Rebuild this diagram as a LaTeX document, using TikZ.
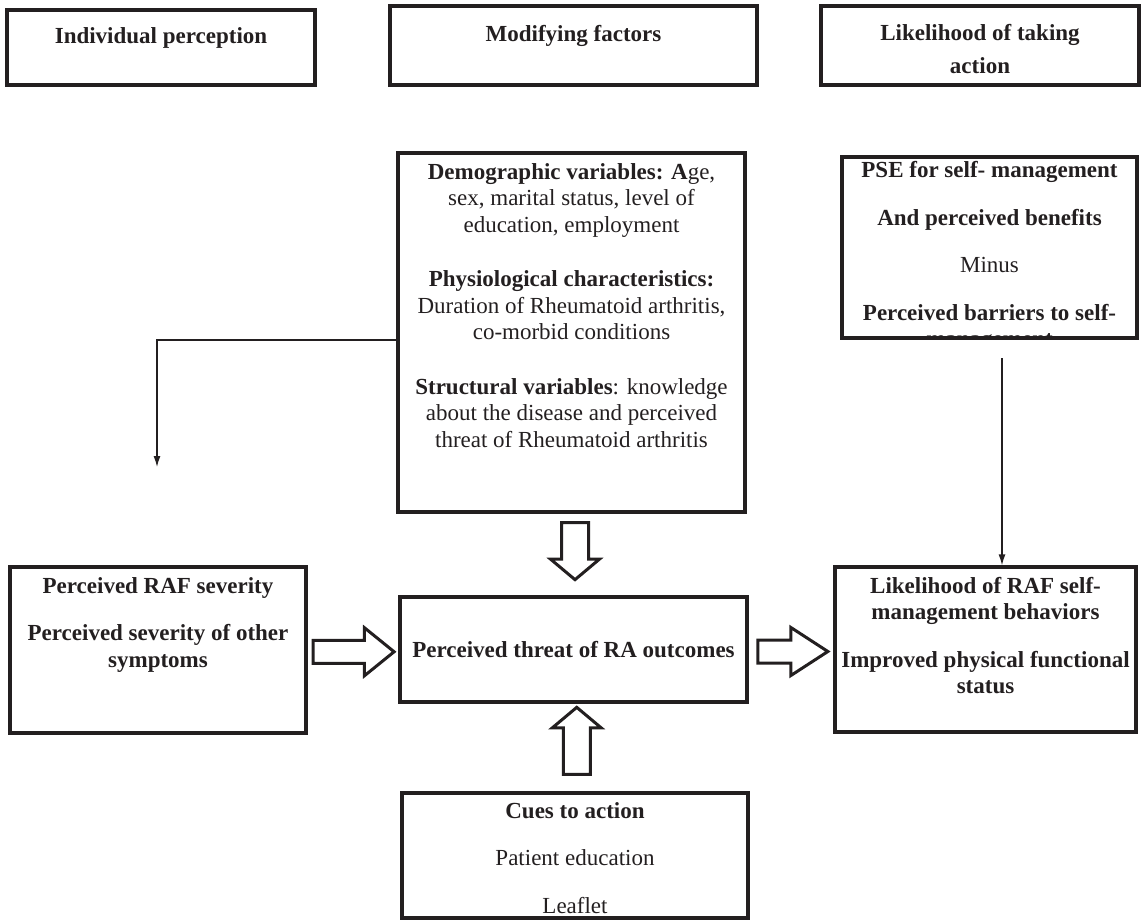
\documentclass[tikz,border=0pt]{standalone}
\usepackage{fontspec}
\setmainfont{Liberation Serif}
\usetikzlibrary{shapes.arrows,arrows.meta,calc}
\definecolor{ink}{RGB}{35,31,32}
\tikzset{
  box/.style={draw=ink,line width=3.3pt,inner sep=0pt},
  txt/.style={text=ink,align=center,inner sep=0pt,font=\fontsize{23}{26.5}\selectfont},
  bold/.style={txt,font=\fontsize{23}{26.5}\selectfont\bfseries},
  fat/.style={single arrow,draw=ink,line width=3pt,inner xsep=0pt,single arrow head indent=0pt},
  link/.style={draw=ink,line width=1.3pt,-{Latex[length=11pt,width=7pt]}},
}
\begin{document}
\begin{tikzpicture}[x=1pt,y=-1pt]
\useasboundingbox (0,0) rectangle (1142,920);
%\draw[gray!30] (0,0) grid[xstep=50,ystep=50] (1142,920);
% heading row
\node[box,minimum width=308pt,minimum height=75pt] (indiv) at (161,47.5) {};
\node[box,minimum width=367pt,minimum height=79pt] (modif) at (573.5,45.5) {};
\node[box,minimum width=318pt,minimum height=79pt] (likely) at (980,45.5) {};
\node[bold,anchor=north] (indivtxt) at (161,27) {Individual perception};
\node[bold,anchor=north] (modiftxt) at (573.5,25) {Modifying factors};
\node[bold,anchor=north] (likelytxt) at (980,24) {Likelihood of taking\\[7pt]action};
% modifying factors
\node[box,minimum width=347pt,minimum height=359pt] (demo) at (571.5,332.5) {};
\node[txt,anchor=north] (demotxt) at (571.5,163) {\textbf{Demographic variables: A}ge,\\
  sex, marital status, level of\\ education, employment\\[28pt]
  \textbf{Physiological characteristics:}\\ Duration of Rheumatoid arthritis,\\
  co-morbid conditions\\[28pt]
  \textbf{Structural variables}: knowledge\\ about the disease and perceived\\
  threat of Rheumatoid arthritis};
% benefits and barriers
\node[box,minimum width=295pt,minimum height=181pt] (pse) at (989.5,247.5) {};
\begin{scope}
\clip (pse.north west) rectangle (pse.south east);
\node[txt,anchor=north] (psetxt) at (989.5,161.5) {\textbf{PSE for self- management}\\[21pt]
  \textbf{And perceived benefits}\\[21pt] Minus\\[21pt]
  \textbf{Perceived barriers to self-}\\ \textbf{management}};
\end{scope}
% middle row
\node[box,minimum width=296pt,minimum height=166pt] (sever) at (158,650) {};
\node[bold,anchor=north] (severtxt) at (158,577) {Perceived RAF severity\\[21pt]
  Perceived severity of other\\ symptoms};
\node[box,bold,minimum width=347pt,minimum height=105pt] (threat) at (573.5,649.5) {Perceived threat of RA outcomes};
\node[box,minimum width=301pt,minimum height=165pt] (behav) at (985.5,649.5) {};
\node[bold,anchor=north] (behavtxt) at (985.5,577) {Likelihood of RAF self-\\ management behaviors\\[21pt]
  Improved physical functional\\ status};
% cues
\node[box,minimum width=346pt,minimum height=125pt] (cues) at (575,855.5) {};
\node[txt,anchor=north] (cuestxt) at (575,802) {\textbf{Cues to action}\\[21pt]
  Patient education\\[21pt] Leaflet};
% block arrows
\node[fat,minimum height=57pt,inner ysep=12pt,single arrow head extend=11pt,
  single arrow tip angle=100,rotate=-90] (downarr) at ($(demo.south)!0.5!(threat.north)+(2.5,-9)$) {};
\node[fat,minimum height=67pt,inner ysep=12pt,single arrow head extend=11pt,
  single arrow tip angle=100,rotate=90] (uparr) at ($(threat.south)!0.5!(cues.north)+(2.5,-1)$) {};
\node[fat,minimum height=81pt,inner ysep=10pt,single arrow head extend=12.5pt,
  single arrow tip angle=78] (leftarr) at ($(sever.east)!0.5!(threat.west)+(-6.5,2)$) {};
\node[fat,minimum height=70pt,inner ysep=10pt,single arrow head extend=12.5pt,
  single arrow tip angle=66] (rightarr) at ($(threat.east)!0.5!(behav.west)+(-7,2)$) {};
% thin connectors
\coordinate (bend) at (157,340);
\coordinate (ltip) at (157,467);
\coordinate (rtop) at (1002,358);
\draw[link] (demo.west |- bend) -- (bend) -- (ltip);
\draw[link] (rtop) -- (rtop |- behav.north);
\end{tikzpicture}
\end{document}
